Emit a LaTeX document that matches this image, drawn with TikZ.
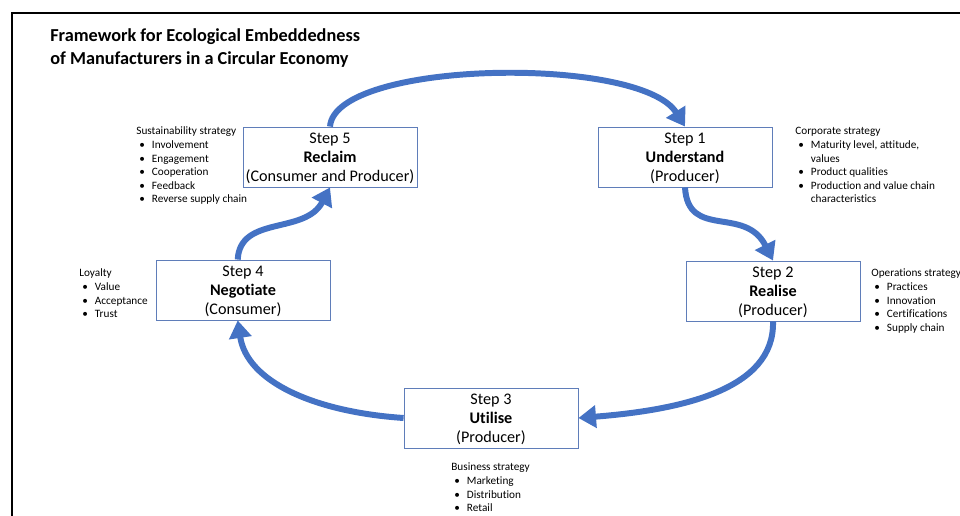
\documentclass[tikz,border=0pt]{standalone}
\usepackage{fontspec}
\setmainfont{Carlito}[Ligatures=NoCommon]
\usetikzlibrary{arrows.meta}
\definecolor{cycleblue}{RGB}{68,114,196}
\definecolor{boxblue}{RGB}{95,125,185}
\newcommand{\stepfont}{\fontsize{9.2}{10.8}\selectfont}
\newcommand{\notefont}{\fontsize{6.4}{7.7}\selectfont}
\newcommand{\bul}{\textbullet}
\newcommand{\steptext}[3]{\raisebox{-3.4pt}[0pt][0pt]{\begin{tabular}{@{}c@{}}#1\\\textbf{#2}\\#3\end{tabular}}}

\begin{document}
\begin{tikzpicture}[x=0.02cm, y=-0.02cm,
    stepbox/.style={draw=boxblue, line width=0.5pt, minimum width=34.8mm, minimum height=12mm,
                    inner sep=0pt, align=center, font=\stepfont},
    note/.style={anchor=base west, inner sep=0pt, font=\notefont},
    flow/.style={draw=cycleblue, line width=3.4pt, -{Triangle[length=10pt,width=12.5pt]}}]
  \useasboundingbox (0,0) rectangle (960,516);
  \draw[line width=1.1pt] (12,516) -- (12,13) -- (960,13);
  \node[anchor=north west, inner sep=0pt, align=left, font=\bfseries\fontsize{10.4}{13}\selectfont] (title) at (50,28)
    {Framework for Ecological Embeddedness\\of Manufacturers in a Circular Economy};

  % the five steps
  \node[stepbox] (s5) at (330,157) {\steptext{Step 5}{Reclaim}{(Consumer and Producer)}};
  \node[stepbox] (s1) at (685,157) {\steptext{Step 1}{Understand}{(Producer)}};
  \node[stepbox] (s2) at (773,291) {\steptext{Step 2}{Realise}{(Producer)}};
  \node[stepbox] (s3) at (491,418) {\steptext{Step 3}{Utilise}{(Producer)}};
  \node[stepbox] (s4) at (243,290) {\steptext{Step 4}{Negotiate}{(Consumer)}};

  % the cycle
  \draw[flow] (s5.north) .. controls (335,60) and (640,55) .. (s1.north);
  \draw[flow] (s1.south) .. controls (688,240) and (745,205) .. (s2.north);
  \draw[flow] (s2.south) .. controls (775,390) and (680,410) .. (s3.east);
  \draw[flow] (s3.west) .. controls (315,412) and (247,382) .. ([xshift=-3pt]s4.south);
  \draw[flow] ([xshift=-3pt]s4.north) .. controls (240,215) and (305,235) .. (s5.south);

  % strategies
  \node[note] (sust) at (136,135) {\begin{tabular}[t]{@{\hspace{1.7pt}}l@{\hspace{4pt}}l@{}}
    \multicolumn{2}{@{}l@{}}{Sustainability strategy}\\
    \bul & Involvement\\ \bul & Engagement\\ \bul & Cooperation\\ \bul & Feedback\\ \bul & Reverse supply chain
    \end{tabular}};
  \node[note] (corp) at (795,135) {\begin{tabular}[t]{@{\hspace{1.7pt}}l@{\hspace{4pt}}l@{}}
    \multicolumn{2}{@{}l@{}}{Corporate strategy}\\
    \bul & Maturity level, attitude,\\ & values\\ \bul & Product qualities\\
    \bul & Production and value chain\\ & characteristics
    \end{tabular}};
  \node[note] (oper) at (871,277) {\begin{tabular}[t]{@{\hspace{1.7pt}}l@{\hspace{4pt}}l@{}}
    \multicolumn{2}{@{}l@{}}{Operations strategy}\\
    \bul & Practices\\ \bul & Innovation\\ \bul & Certifications\\ \bul & Supply chain
    \end{tabular}};
  \node[note] (busi) at (451,471) {\begin{tabular}[t]{@{\hspace{1.7pt}}l@{\hspace{4pt}}l@{}}
    \multicolumn{2}{@{}l@{}}{Business strategy}\\
    \bul & Marketing\\ \bul & Distribution\\ \bul & Retail
    \end{tabular}};
  \node[note] (loya) at (79,277) {\begin{tabular}[t]{@{\hspace{1.7pt}}l@{\hspace{4pt}}l@{}}
    \multicolumn{2}{@{}l@{}}{Loyalty}\\
    \bul & Value\\ \bul & Acceptance\\ \bul & Trust
    \end{tabular}};
\end{tikzpicture}
\end{document}
